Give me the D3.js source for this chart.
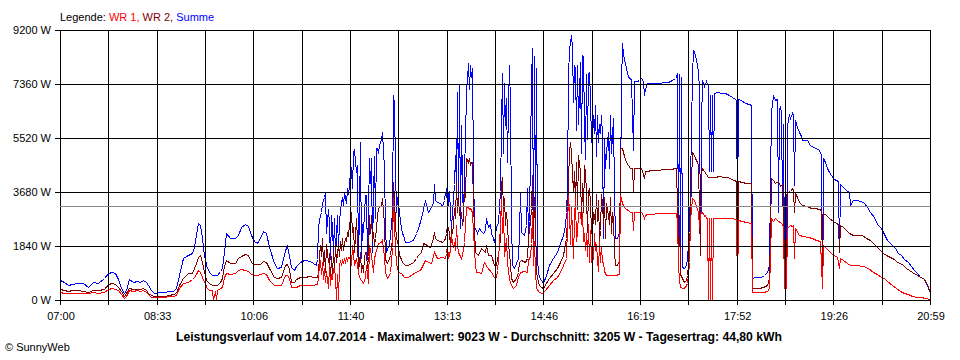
<!doctype html>
<html>
<head>
<meta charset="utf-8">
<title>Leistungsverlauf 14.07.2014</title>
<script src="https://d3js.org/d3.v7.min.js"></script>
<style>
  body { margin: 0; background: #fff; }
  svg { display: block; font-family: "Liberation Sans", Arial, sans-serif; }
</style>
</head>
<body>
<script>
// Summe (blue), WR 2 (dark red), WR 1 (red) - [time, watts]
var summe = [
["07:00",680],["07:04",600],["07:08",510],["07:12",560],["07:17",570],["07:22",575],["07:27",455],["07:32",625],["07:37",570],["07:42",740],
["07:46",910],["07:50",965],["07:53",910],["07:56",700],["07:59",400],["08:02",230],["08:04",330],["08:07",715],["08:10",620],["08:14",650],
["08:17",600],["08:20",690],["08:23",620],["08:25",500],["08:28",340],["08:31",250],["08:35",260],["08:40",265],["08:45",300],["08:49",320],
["08:52",400],["08:55",850],["08:59",1420],["09:03",1530],["09:07",1600],["09:09",1820],["09:11",2215],["09:13",2610],["09:15",2550],["09:17",2100],
["09:19",1500],["09:20",1430],["09:21",1200],["09:24",965],["09:27",850],["09:31",850],["09:34",1000],["09:36",1100],["09:38",1650],["09:40",2270],
["09:44",2100],["09:49",2100],["09:52",2200],["09:55",2500],["09:58",2580],["10:01",2520],["10:04",2215],["10:07",2000],["10:10",1930],["10:13",2100],
["10:16",2360],["10:19",2300],["10:22",1820],["10:26",1250],["10:29",1080],["10:33",1120],["10:37",1700],["10:39",1830],["10:41",1500],["10:43",1135],
["10:46",1020],["10:48",1150],["10:51",1305],["10:55",1360],["11:01",1330],["11:04",1250],["11:07",1190],["11:08",1400],["11:09",2500],["11:10",2700],
["11:11",2900],["11:12",3010],["11:13",3300],["11:14",3405],["11:15",3500],["11:16",3635],["11:17",2300],["11:18",3100],["11:19",2600],["11:20",1400],
["11:21",2900],["11:22",2500],["11:23",1600],["11:24",2800],["11:25",1500],["11:26",2200],["11:27",2900],["11:28",1700],["11:29",2700],["11:30",3070],
["11:31",3300],["11:32",3520],["11:33",3200],["11:34",3690],["11:35",3500],["11:36",3300],["11:37",3805],["11:38",3600],["11:39",3900],["11:40",4430],
["11:41",4485],["11:42",3800],["11:43",5050],["11:44",5100],["11:45",4370],["11:46",4600],["11:47",1420],["11:48",3000],["11:49",5390],["11:50",1420],
["11:51",2600],["11:52",2330],["11:53",3000],["11:54",3580],["11:55",3580],["11:56",1400],["11:57",3000],["11:58",4830],["11:59",4000],["12:00",4830],
["12:01",1650],["12:02",3500],["12:03",4900],["12:04",2800],["12:05",5170],["12:06",5170],["12:07",5000],["12:08",5280],["12:09",5400],["12:10",5500],
["12:11",5735],["12:12",4500],["12:13",2500],["12:14",1650],["12:15",1750],["12:17",1900],["12:18",2215],["12:19",2600],["12:20",3000],["12:21",6985],
["12:22",6700],["12:23",4500],["12:24",3000],["12:25",3500],["12:26",3300],["12:27",3010],["12:28",2700],["12:29",2500],["12:30",2300],["12:31",2215],
["12:33",1990],["12:36",1990],["12:40",2050],["12:43",2300],["12:45",2440],["12:48",2800],["12:50",3100],["12:52",3405],["12:54",3100],["12:55",3010],
["12:57",3100],["12:58",3200],["13:00",3300],["13:01",3940],["13:02",3400],["13:04",3350],["13:06",3300],["13:08",3200],["13:10",3400],["13:11",3690],
["13:12",3500],["13:13",4145],["13:14",3235],["13:15",3700],["13:16",3000],["13:17",2440],["13:18",3000],["13:19",3500],["13:20",3940],["13:21",4940],
["13:22",3800],["13:23",7100],["13:24",3300],["13:25",7325],["13:26",2440],["13:27",5960],["13:28",4000],["13:29",2700],["13:30",4500],["13:31",5500],
["13:32",7100],["13:33",8065],["13:34",7200],["13:35",8000],["13:36",7600],["13:37",7895],["13:38",4500],["13:39",2440],["13:40",2440],["13:42",2300],
["13:44",2440],["13:46",2350],["13:48",2300],["13:50",2400],["13:51",2785],["13:53",2500],["13:55",2600],["13:56",2300],["13:58",2100],["13:59",1990],
["14:00",2500],["14:02",2670],["14:04",3700],["14:05",5960],["14:06",7725],["14:07",5000],["14:08",7380],["14:09",5960],["14:10",6900],["14:11",4700],
["14:12",6600],["14:13",8005],["14:14",6600],["14:15",2700],["14:16",1190],["14:18",1080],["14:20",1250],["14:22",1420],["14:23",2330],["14:24",3690],
["14:25",2330],["14:27",2215],["14:29",2555],["14:30",3805],["14:31",2200],["14:32",2700],["14:33",5000],["14:34",7500],["14:35",8575],["14:36",1800],
["14:37",8300],["14:38",3000],["14:39",7900],["14:40",1420],["14:41",965],["14:42",795],["14:44",680],["14:46",570],["14:49",850],["14:52",1190],
["14:55",1420],["14:59",1650],["15:02",1930],["15:05",2215],["15:07",2555],["15:08",3010],["15:09",3805],["15:10",7665],["15:11",8520],["15:12",8800],
["15:13",9030],["15:14",8600],["15:15",6760],["15:16",8000],["15:17",7900],["15:18",5800],["15:19",8000],["15:20",6000],["15:21",8100],["15:22",5000],
["15:23",8350],["15:24",8300],["15:25",6000],["15:26",4800],["15:27",7700],["15:28",5500],["15:29",7700],["15:30",7780],["15:31",6900],["15:32",5400],
["15:33",5390],["15:34",6300],["15:35",5700],["15:36",6645],["15:37",4900],["15:38",6300],["15:39",5400],["15:40",6000],["15:41",5700],["15:42",6300],
["15:43",5600],["15:44",2100],["15:45",5510],["15:46",4500],["15:47",5050],["15:48",5735],["15:49",4500],["15:50",6300],["15:51",5000],["15:52",5620],
["15:53",6190],["15:54",3690],["15:55",2100],["15:57",2100],["15:59",2330],["16:00",3690],["16:01",7325],["16:02",8745],["16:03",8400],["16:04",8200],
["16:06",7895],["16:08",7600],["16:10",7555],["16:11",7500],["16:13",5100],["16:14",7450],["16:16",7450],["16:18",7500],["16:20",7555],["16:22",7450],
["16:23",6985],["16:24",7200],["16:26",7380],["16:30",7380],["16:34",7400],["16:38",7380],["16:42",7420],["16:46",7440],["16:50",7500],["16:53",7550],
["16:54",7600],["16:55",7725],["16:56",1400],["16:57",7700],["16:58",1200],["16:59",7600],["17:00",1135],["17:02",1080],["17:04",1200],["17:05",1420],
["17:06",1900],["17:07",2330],["17:08",4000],["17:09",7665],["17:10",8520],["17:11",8450],["17:13",8200],["17:15",7780],["17:16",7200],["17:17",1530],
["17:18",6000],["17:19",7495],["17:21",7300],["17:23",7450],["17:25",7300],["17:26",4400],["17:27",6985],["17:28",4400],["17:29",6985],["17:30",4400],
["17:31",7040],["17:34",7100],["17:38",7060],["17:41",7040],["17:45",6980],["17:48",6920],["17:51",6850],["17:52",6815],["17:53",2900],["17:54",6850],
["17:57",6800],["18:01",6720],["18:04",6680],["18:06",6645],["18:07",740],["18:10",795],["18:13",800],["18:16",800],["18:19",850],["18:22",965],
["18:24",1190],["18:25",4030],["18:26",6400],["18:28",6985],["18:30",6800],["18:31",6850],["18:32",3010],["18:33",6500],["18:34",6560],["18:35",6400],
["18:36",3235],["18:37",6000],["18:38",1100],["18:39",1080],["18:40",1150],["18:41",5850],["18:42",6190],["18:43",6300],["18:44",6200],["18:46",6360],
["18:47",6300],["18:48",3920],["18:49",6150],["18:50",6000],["18:51",5900],["18:53",5735],["18:55",5600],["18:56",5450],["19:00",5450],["19:03",5280],
["19:06",5200],["19:09",5170],["19:12",5100],["19:14",4940],["19:15",965],["19:16",4830],["19:18",4700],["19:20",4500],["19:22",4370],["19:24",4250],
["19:26",4120],["19:28",4090],["19:30",4050],["19:31",1650],["19:32",3940],["19:35",3850],["19:38",3750],["19:41",3690],["19:42",3235],["19:43",3300],
["19:45",3405],["19:48",3405],["19:52",3380],["19:55",3320],["19:58",3180],["20:01",3000],["20:05",2840],["20:08",2600],["20:12",2440],["20:15",2250],
["20:18",2045],["20:21",1900],["20:25",1760],["20:28",1600],["20:31",1530],["20:34",1400],["20:38",1305],["20:41",1150],["20:44",1020],["20:46",910],
["20:49",800],["20:52",740],["20:55",570],["20:57",400],["20:59",250]
];

var wr2 = [
["07:00",375],["07:04",330],["07:08",320],["07:12",325],["07:17",330],["07:22",320],["07:27",285],["07:32",345],["07:37",330],["07:42",375],
["07:46",535],["07:50",590],["07:53",560],["07:56",455],["07:59",300],["08:02",150],["08:04",250],["08:07",400],["08:10",360],["08:14",380],
["08:17",370],["08:20",400],["08:23",330],["08:25",250],["08:28",170],["08:31",150],["08:35",150],["08:40",150],["08:45",160],["08:49",200],
["08:52",230],["08:55",500],["08:59",740],["09:03",910],["09:07",930],["09:09",1100],["09:11",1250],["09:13",1450],["09:15",1530],["09:17",1300],
["09:19",965],["09:20",850],["09:21",680],["09:24",570],["09:27",510],["09:31",510],["09:34",600],["09:36",740],["09:38",1150],["09:40",1360],
["09:44",1250],["09:49",1250],["09:52",1420],["09:55",1500],["09:58",1555],["10:01",1540],["10:04",1300],["10:07",1215],["10:10",1230],["10:13",1220],
["10:16",1320],["10:19",1300],["10:22",1080],["10:26",795],["10:29",760],["10:33",780],["10:37",1190],["10:39",1210],["10:41",1050],["10:43",625],
["10:46",630],["10:48",700],["10:51",795],["10:55",800],["11:01",810],["11:04",795],["11:07",790],["11:08",800],["11:09",965],["11:10",1530],
["11:11",1875],["11:12",1500],["11:13",2100],["11:14",1200],["11:15",1700],["11:16",965],["11:17",1900],["11:18",1300],["11:19",1600],["11:20",700],
["11:21",1500],["11:22",900],["11:23",1650],["11:24",1100],["11:25",1875],["11:26",1300],["11:27",1600],["11:28",1900],["11:29",1500],["11:30",2000],
["11:31",1700],["11:32",2100],["11:33",1700],["11:34",1900],["11:35",2100],["11:36",2000],["11:37",2270],["11:38",2200],["11:39",2555],["11:40",2800],
["11:41",3010],["11:42",2330],["11:43",2500],["11:44",1650],["11:45",2785],["11:46",2000],["11:47",965],["11:48",1300],["11:49",1650],["11:50",965],
["11:51",1200],["11:52",965],["11:53",1420],["11:54",1650],["11:55",1650],["11:56",1080],["11:57",1500],["11:58",2895],["11:59",2300],["12:00",2895],
["12:01",2000],["12:02",2330],["12:03",1870],["12:04",2100],["12:05",2440],["12:06",2900],["12:07",3125],["12:08",3180],["12:09",3200],["12:10",3235],
["12:11",3465],["12:12",2600],["12:13",1420],["12:14",1300],["12:15",1250],["12:17",1420],["12:18",1530],["12:19",1800],["12:20",2100],["12:21",4030],
["12:22",3465],["12:23",2600],["12:24",2100],["12:25",2000],["12:26",1875],["12:27",1530],["12:28",1450],["12:29",1400],["12:30",1300],["12:31",1250],
["12:33",1190],["12:36",1190],["12:40",1300],["12:43",1420],["12:45",1550],["12:48",1650],["12:50",1930],["12:52",1900],["12:54",1875],["12:55",1850],
["12:57",1820],["12:58",1900],["13:00",2100],["13:01",2330],["13:02",2100],["13:04",2045],["13:06",2000],["13:08",1990],["13:10",2050],["13:11",2100],
["13:12",2300],["13:13",2555],["13:14",2440],["13:15",2300],["13:16",1875],["13:17",2440],["13:18",2300],["13:19",2600],["13:20",3125],["13:21",2800],
["13:22",4030],["13:23",3010],["13:24",3500],["13:25",2900],["13:26",3010],["13:27",3010],["13:28",2555],["13:29",3000],["13:30",3690],["13:31",3500],
["13:32",4830],["13:33",4715],["13:34",4830],["13:35",4600],["13:36",4715],["13:37",4715],["13:38",3235],["13:39",2440],["13:40",1650],["13:43",1530],
["13:46",1760],["13:50",1650],["13:51",1875],["13:53",1530],["13:56",1530],["13:59",1190],["14:00",1190],["14:01",1420],["14:02",1530],["14:04",2100],
["14:05",3920],["14:06",4200],["14:07",3010],["14:08",3465],["14:09",2555],["14:10",3010],["14:11",2555],["14:12",1900],["14:13",1650],["14:15",740],
["14:17",625],["14:20",740],["14:22",965],["14:23",1305],["14:25",1360],["14:28",1305],["14:30",1420],["14:31",2100],["14:33",2670],["14:34",3125],
["14:35",4260],["14:36",2000],["14:37",3500],["14:38",2700],["14:39",1000],["14:40",740],["14:42",510],["14:44",455],["14:46",400],["14:49",570],
["14:52",740],["14:55",910],["14:59",1080],["15:02",1305],["15:05",1530],["15:08",2100],["15:09",2800],["15:10",4100],["15:11",5050],["15:12",5390],
["15:13",5050],["15:14",4300],["15:15",3700],["15:16",4400],["15:17",3300],["15:18",4700],["15:19",3100],["15:20",4940],["15:21",4400],["15:22",2700],
["15:23",4000],["15:24",3000],["15:25",4600],["15:26",4400],["15:27",3600],["15:28",2330],["15:29",3700],["15:30",3800],["15:31",3300],["15:32",2330],
["15:33",2200],["15:34",3000],["15:35",2900],["15:36",2600],["15:37",3600],["15:38",2700],["15:39",3400],["15:40",2000],["15:41",2400],["15:42",3600],
["15:43",3300],["15:44",2600],["15:45",3500],["15:46",2100],["15:47",3300],["15:48",2900],["15:49",2600],["15:50",3500],["15:51",2300],["15:52",3000],
["15:53",2800],["15:54",1650],["15:55",1190],["15:57",1190],["15:59",1360],["16:00",5170],["16:02",5170],["16:04",4900],["16:06",4715],["16:08",4600],
["16:10",4485],["16:12",4485],["16:13",3700],["16:14",4485],["16:18",4485],["16:20",4485],["16:22",4300],["16:23",4145],["16:24",4400],["16:26",4400],
["16:30",4420],["16:36",4430],["16:42",4450],["16:48",4470],["16:54",4485],["16:55",3200],["16:56",1190],["16:57",2900],["16:58",900],["17:00",740],
["17:02",625],["17:04",680],["17:05",850],["17:07",1530],["17:08",3000],["17:09",5050],["17:10",5000],["17:12",4830],["17:14",4700],["17:15",4600],
["17:16",3000],["17:17",1530],["17:18",4300],["17:19",4485],["17:21",4400],["17:23",4300],["17:25",4200],["17:28",4200],["17:32",4200],["17:36",4230],
["17:40",4200],["17:44",4180],["17:47",4110],["17:50",4080],["17:52",4050],["17:53",965],["17:54",4050],["17:58",4020],["18:02",4000],["18:06",3975],
["18:07",400],["18:10",400],["18:14",420],["18:18",450],["18:22",510],["18:24",740],["18:25",2300],["18:26",4145],["18:28",4100],["18:30",4000],
["18:32",4050],["18:34",3900],["18:36",3950],["18:37",3700],["18:38",510],["18:40",510],["18:41",3690],["18:42",3690],["18:44",3700],["18:46",3805],
["18:47",3750],["18:48",3010],["18:49",3650],["18:51",3500],["18:53",3350],["18:56",3250],["19:00",3200],["19:04",3150],["19:08",3125],["19:12",3100],
["19:14",3080],["19:15",1100],["19:16",2955],["19:19",2900],["19:22",2785],["19:25",2700],["19:28",2620],["19:30",2580],["19:31",1650],["19:32",2555],
["19:35",2500],["19:38",2400],["19:41",2270],["19:45",2200],["19:49",2230],["19:53",2200],["19:57",2100],["20:01",2045],["20:04",1950],["20:07",1830],
["20:11",1700],["20:14",1600],["20:17",1530],["20:20",1475],["20:24",1390],["20:27",1300],["20:30",1250],["20:33",1190],["20:36",1100],["20:39",1020],
["20:42",950],["20:46",850],["20:49",780],["20:52",740],["20:55",600],["20:57",450],["20:59",250]
];

var wr1 = [
["07:00",285],["07:04",250],["07:08",230],["07:12",250],["07:17",250],["07:22",245],["07:27",230],["07:32",260],["07:37",250],["07:42",285],
["07:46",375],["07:50",400],["07:53",390],["07:56",330],["07:59",200],["08:02",80],["08:04",150],["08:07",340],["08:10",320],["08:14",330],
["08:17",320],["08:20",340],["08:23",270],["08:25",200],["08:28",115],["08:31",110],["08:35",110],["08:40",115],["08:45",120],["08:49",140],
["08:52",170],["08:55",400],["08:59",570],["09:03",625],["09:07",700],["09:09",800],["09:11",900],["09:13",1020],["09:15",960],["09:17",800],
["09:19",620],["09:20",570],["09:21",455],["09:24",340],["09:27",330],["09:28",0],["09:29",320],["09:30",0],["09:31",330],["09:34",400],
["09:36",450],["09:38",800],["09:40",910],["09:44",900],["09:49",910],["09:52",1020],["09:55",1050],["09:58",1020],["10:01",990],["10:04",900],
["10:07",850],["10:10",860],["10:13",870],["10:16",930],["10:19",880],["10:22",680],["10:26",510],["10:29",500],["10:33",520],["10:37",850],
["10:39",860],["10:41",760],["10:43",455],["10:46",460],["10:48",460],["10:51",500],["10:55",510],["11:01",520],["11:04",510],["11:07",540],
["11:08",540],["11:09",800],["11:10",1190],["11:11",1360],["11:12",900],["11:13",1300],["11:14",700],["11:15",1100],["11:16",600],["11:17",1000],
["11:18",400],["11:19",1200],["11:20",500],["11:21",900],["11:22",700],["11:23",1100],["11:24",1100],["11:25",800],["11:26",0],["11:27",900],
["11:28",0],["11:29",1200],["11:30",1360],["11:31",1200],["11:32",1360],["11:33",1300],["11:34",1400],["11:35",1300],["11:36",1420],["11:37",1350],
["11:38",1475],["11:39",1450],["11:40",1400],["11:41",1190],["11:42",1875],["11:43",1600],["11:44",1190],["11:45",1420],["11:46",1200],["11:47",965],
["11:48",800],["11:50",680],["11:52",570],["11:54",795],["11:55",1190],["11:57",570],["11:58",1875],["12:00",1530],["12:02",965],["12:03",1420],
["12:05",1700],["12:07",1930],["12:10",1990],["12:11",2045],["12:12",1500],["12:13",965],["12:15",740],["12:17",850],["12:18",965],["12:19",1300],
["12:20",1800],["12:21",3465],["12:22",2555],["12:23",1800],["12:24",1250],["12:26",965],["12:29",910],["12:32",795],["12:36",795],["12:42",965],
["12:47",1020],["12:52",1360],["12:55",1305],["12:58",1250],["13:01",1650],["13:03",1500],["13:04",1420],["13:08",1475],["13:11",1420],["13:12",1600],
["13:13",1875],["13:14",1420],["13:16",1700],["13:17",2215],["13:19",1800],["13:20",1990],["13:21",1700],["13:22",2555],["13:23",1900],["13:24",1650],
["13:26",1500],["13:27",1420],["13:28",1530],["13:30",1990],["13:31",2600],["13:32",3180],["13:33",3180],["13:34",3100],["13:35",3125],["13:36",3050],
["13:37",3010],["13:38",2330],["13:40",1190],["13:41",965],["13:43",965],["13:46",910],["13:49",1305],["13:52",1135],["13:56",965],["13:59",795],
["14:00",795],["14:01",1020],["14:02",1360],["14:04",2555],["14:05",3465],["14:06",2300],["14:07",3100],["14:08",1500],["14:10",2100],["14:11",1300],
["14:13",700],["14:15",510],["14:17",400],["14:20",510],["14:22",800],["14:24",965],["14:27",1000],["14:30",965],["14:31",1360],["14:33",1500],
["14:34",1930],["14:35",3010],["14:36",1200],["14:37",2000],["14:38",1000],["14:39",400],["14:42",285],["14:45",230],["14:48",340],["14:52",510],
["14:55",680],["14:59",800],["15:02",965],["15:05",1190],["15:08",1420],["15:09",2500],["15:10",3580],["15:11",3000],["15:12",1900],["15:13",3200],
["15:14",2300],["15:15",1420],["15:16",2800],["15:17",3465],["15:18",2000],["15:19",2300],["15:20",3000],["15:21",3000],["15:22",2600],["15:23",3000],
["15:24",2000],["15:25",2300],["15:26",1700],["15:27",2300],["15:28",1500],["15:29",2600],["15:30",1300],["15:31",2400],["15:32",1300],["15:33",1700],
["15:34",1400],["15:35",2300],["15:36",1700],["15:37",1900],["15:38",1400],["15:39",1000],["15:40",2000],["15:41",1300],["15:42",1800],["15:43",1300],
["15:44",1300],["15:45",1000],["15:47",850],["15:51",850],["15:55",850],["15:59",900],["16:00",3580],["16:02",3300],["16:04",3180],["16:06",3100],
["16:08",3050],["16:10",3010],["16:12",3010],["16:13",2400],["16:14",3010],["16:20",3010],["16:22",2900],["16:23",2785],["16:24",2900],["16:26",2930],
["16:30",2940],["16:38",2950],["16:46",2960],["16:54",2980],["16:55",2700],["16:56",1190],["16:57",700],["16:58",455],["17:01",400],["17:03",455],
["17:05",570],["17:06",850],["17:07",1300],["17:08",2700],["17:09",3465],["17:11",3400],["17:13",3200],["17:15",3010],["17:16",2500],["17:17",2900],
["17:18",3010],["17:20",2980],["17:21",2850],["17:22",2900],["17:23",2810],["17:24",2805],["17:25",0],["17:26",2805],["17:27",0],["17:28",2805],
["17:29",0],["17:30",2805],["17:34",2810],["17:40",2805],["17:46",2790],["17:52",2760],["17:53",400],["17:54",2740],["17:58",2700],["18:02",2660],
["18:06",2610],["18:07",285],["18:12",285],["18:18",285],["18:22",300],["18:24",400],["18:25",1400],["18:26",2785],["18:28",2700],["18:30",2785],
["18:32",2700],["18:34",2650],["18:36",2600],["18:37",2500],["18:38",400],["18:40",400],["18:41",2500],["18:42",2500],["18:44",2555],["18:46",2520],
["18:47",2555],["18:48",1420],["18:49",2450],["18:53",2215],["18:57",2180],["19:01",2130],["19:05",2100],["19:09",2045],["19:13",2000],["19:15",400],
["19:16",1875],["19:20",1750],["19:24",1600],["19:26",1530],["19:29",1480],["19:31",1100],["19:32",1420],["19:35",1350],["19:39",1250],["19:42",1190],
["19:48",1190],["19:54",1170],["19:59",1100],["20:04",965],["20:08",870],["20:12",780],["20:15",740],["20:18",650],["20:22",500],["20:26",400],
["20:30",300],["20:34",230],["20:38",190],["20:42",140],["20:46",115],["20:50",90],["20:54",70],["20:59",35]
];

var yTicks = [0, 1840, 3680, 5520, 7360, 9200];
var xTickLabels = ["07:00", "08:33", "10:06", "11:40", "13:13", "14:46", "16:19", "17:52", "19:26", "20:59"];
var average = 3205;
var title = "Leistungsverlauf vom 14.07.2014 - Maximalwert: 9023 W - Durchschnitt: 3205 W - Tagesertrag: 44,80 kWh";

var width = 960, height = 360;
var parseTime = d3.timeParse("%H:%M");
var t0 = parseTime(xTickLabels[0]), t1 = parseTime(xTickLabels[xTickLabels.length - 1]);

var x = d3.scaleTime().domain([t0, t1]).range([60, 930]);
var y = d3.scaleLinear().domain([0, 9200]).range([300, 30]);

var svg = d3.select("body").append("svg")
    .attr("width", width)
    .attr("height", height);

svg.append("rect").attr("width", width).attr("height", height).attr("fill", "#fff");

// legend
var legend = svg.append("text")
    .attr("x", 60).attr("y", 21)
    .attr("font-size", 11);
legend.append("tspan").attr("fill", "#000").text("Legende: ");
legend.append("tspan").attr("fill", "#ff0000").text("WR 1, ");
legend.append("tspan").attr("fill", "#800000").text("WR 2, ");
legend.append("tspan").attr("fill", "#0000ff").text("Summe");

// data lines
var line = d3.line()
    .x(function(d) { return Math.round(x(parseTime(d[0]))) + 0.5; })
    .y(function(d) { return Math.round(y(d[1])) + 0.5; });

var series = [
    { data: summe, color: "#0000ff" },
    { data: wr2, color: "#800000" },
    { data: wr1, color: "#ff0000" }
];

svg.append("g").selectAll("path")
    .data(series)
    .enter().append("path")
    .attr("d", function(s) { return line(s.data); })
    .attr("fill", "none")
    .attr("stroke", function(s) { return s.color; })
    .attr("stroke-width", 1)
    .attr("shape-rendering", "crispEdges");

// grid
var grid = svg.append("g").attr("shape-rendering", "crispEdges");

var vTimes = d3.range(19).map(function(i) {
    return new Date(t0.getTime() + i * (t1 - t0) / 18);
});

grid.selectAll(".hline")
    .data(yTicks)
    .enter().append("line")
    .attr("x1", 55).attr("x2", 930)
    .attr("y1", function(d) { return Math.round(y(d)) + 0.5; })
    .attr("y2", function(d) { return Math.round(y(d)) + 0.5; })
    .attr("stroke", "#000");

grid.selectAll(".vline")
    .data(vTimes)
    .enter().append("line")
    .attr("x1", function(d) { return Math.round(x(d)) + 0.5; })
    .attr("x2", function(d) { return Math.round(x(d)) + 0.5; })
    .attr("y1", 30).attr("y2", 305)
    .attr("stroke", "#000");

// average line
svg.append("line")
    .attr("x1", 60).attr("x2", 930)
    .attr("y1", Math.round(y(average)) + 0.5)
    .attr("y2", Math.round(y(average)) + 0.5)
    .attr("stroke", "#888")
    .attr("shape-rendering", "crispEdges");

// y labels
svg.append("g").selectAll("text")
    .data(yTicks)
    .enter().append("text")
    .attr("x", 51)
    .attr("y", function(d) { return y(d) + 4; })
    .attr("text-anchor", "end")
    .attr("font-size", 11)
    .text(function(d) { return d + " W"; });

// x labels
svg.append("g").selectAll("text")
    .data(xTickLabels)
    .enter().append("text")
    .attr("x", function(d, i) { return x(vTimes[i * 2]) + 1; })
    .attr("y", 320)
    .attr("text-anchor", "middle")
    .attr("font-size", 11)
    .text(function(d) { return d; });

// footer
svg.append("text")
    .attr("x", 176).attr("y", 341)
    .attr("font-size", 12)
    .attr("font-weight", "bold")
    .attr("textLength", 606)
    .attr("lengthAdjust", "spacingAndGlyphs")
    .text(title);

svg.append("text")
    .attr("x", 5).attr("y", 351)
    .attr("font-size", 11)
    .text("\u00a9 SunnyWeb");
</script>
</body>
</html>
